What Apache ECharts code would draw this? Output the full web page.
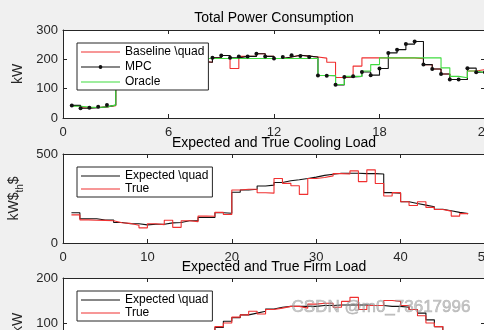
<!DOCTYPE html>
<html><head><meta charset="utf-8">
<script src="https://cdn.jsdelivr.net/npm/echarts@6/dist/echarts.min.js"></script>
<style>html,body{margin:0;padding:0;background:#f0f0f0;}#c{width:484px;height:330px;}</style>
</head><body><div id="c"></div>
<script>
// ---------- data ----------
const powerTime = [0.5,1,1.5,2,2.5,3,3.5,4,4.5,5,5.5,6,6.5,7,7.5,8,8.5,9,9.5,10,10.5,11,11.5,12,
  12.5,13,13.5,14,14.5,15,15.5,16,16.5,17,17.5,18,18.5,19,19.5,20,20.5,21,21.5,22,22.5,23,23.5,24];
const powerBaseline = [42,35,36,38,42, 196,201,204,199,203,206,201,197,203,193,
  190,205,213,169,210,210,219,210,203,208,214,211,208,204,190,138,140,177,
  205,205,205,205,205,205,202,182,167,150,131,131,160,165,165];
const powerMPC = [43,33,35,38,44, 195,200,205,198,202,207,200,196,203,192,
  190,205,213,205,210,210,219,210,203,208,214,211,208,145,144,113,140,142,157,146,169,
  222,233,252,261,182,167,150,131,131,170,156,156];
const powerOracle = [40,37,36,38,44, 203,203,203,203,203,203,203,203,203,203,
  203,203,203,203,203,203,203,203,203,203,203,203,203, 145,145,114,142,142,160,182,
  205,205,205,205,205,205,205, 171,142,137,160,155,155];

const loadTime = [1,2,3,4,5,6,7,8,9,10,11,12,13,14,15,16,17,18,19,20,21,22,23,24,
  25,26,27,28,29,30,31,32,33,34,35,36,37,38,39,40,41,42,43,44,45,46,47,48];
const coolingExpected = [170,136,136,129,129,115,108,108,102,105,
  105,113,115,125,125,143,143,170,167,285,
  298,302,320,325,340,350,355,362,370,380,
  386,392,392,392,390,390,388,283,280,232,
  222,213,204,190,181,172,165,165];
const coolingTrue = [158,130,128,127,125,114,110,100,85,108,
  103,128,88,125,120,151,150,172,160,298,
  302,302,282,280,362,335,322,273,362,368,
  377,390,388,405,345,411,334,264,283,232,
  211,232,200,188,179,151,165,165];
const firmExpected = [62,60,58,57,56,56,57,58,60,62,
  64,66,68,70,73,76,80,90,104,112,
  118,122,126,131,135,137,137,137,137,139,
  139,140,140,140,140,139,139,137,137,135,
  130,122,107,92,81,72,66,62];
const firmTrue = [60,61,57,58,55,57,56,59,61,60,
  65,64,69,71,72,78,79,92,100,113,
  118,126,120,130,133,137,137,133,142,144,
  144,135,148,157,130,139,139,150,148,139,
  130,116,100,92,81,68,63,62];

const powerXTicks = [0,6,12,18,24];
const loadXTicks = [0,10,20,30,40,50];
const powerYTicks = [0,100,200,300];
const coolingYTicks = [0,500];
const firmYTicks = [0,100,200];

// ---------- styling ----------
const FONT = 'Liberation Sans';
const AX = '#262626';
const RED = '#f03030', BLACK = '#111111', GREEN = '#3fdc3f';
const L = 63, W = 422;
const grids = [
  {left:L, top:30, width:W, height:88},
  {left:L, top:154, width:W, height:89},
  {left:L, top:278, width:W, height:90}
];
function rng(t){ return {min:t[0], max:t[t.length-1], interval:t[1]-t[0]}; }
function xAxes(gi, ticks){
  const r = rng(ticks);
  const base = {type:'value', gridIndex:gi, min:r.min, max:r.max, interval:r.interval,
    axisLine:{show:true,onZero:false,lineStyle:{color:AX,width:1}},
    axisTick:{show:true,inside:true,length:4,lineStyle:{color:AX,width:1}},
    splitLine:{show:false}};
  return [
    Object.assign({}, base, {position:'bottom',
      axisLabel:{show:true,color:AX,fontSize:13,fontFamily:FONT,margin:8,showMaxLabel:true,showMinLabel:true,hideOverlap:false}}),
    Object.assign({}, base, {position:'top', axisLabel:{show:false}})
  ];
}
function yAxes(gi, ticks, name, nameGap){
  const r = rng(ticks);
  const base = {type:'value', gridIndex:gi, min:r.min, max:r.max, interval:r.interval,
    axisLine:{show:true,onZero:false,lineStyle:{color:AX,width:1}},
    axisTick:{show:true,inside:true,length:4,lineStyle:{color:AX,width:1}},
    splitLine:{show:false}};
  return [
    Object.assign({}, base, {position:'left', name:name, nameLocation:'middle', nameRotate:90, nameGap:nameGap,
      nameTextStyle:{color:AX,fontSize:14,fontFamily:FONT,
        rich:{a:{fontSize:14,fontFamily:FONT,color:AX,verticalAlign:'top',lineHeight:18},
              s:{fontSize:10,fontFamily:FONT,color:AX,verticalAlign:'bottom',lineHeight:18}}},
      axisLabel:{show:true,color:AX,fontSize:13,fontFamily:FONT,margin:5}}),
    Object.assign({}, base, {position:'right', axisLabel:{show:false}})
  ];
}
function stairs(name, xs, ys, color, ai, dots){
  return {type:'line', name:name, step:'end', xAxisIndex:ai, yAxisIndex:ai,
    data: xs.map((x,i)=>[x, ys[i]]), color:color,
    lineStyle:{color:color, width:1.1}, itemStyle:{color:color},
    symbol: dots ? 'circle' : 'none', symbolSize:4, showSymbol:!!dots, showAllSymbol:true,
    animation:false, silent:true, clip:true};
}
const LINE = 'path://M0,0L39,0L39,1.2L0,1.2Z';
const LINE_DOT = 'path://M0,2.4L39,2.4L39,3.6L0,3.6Z M21.5,3L20.9,4.4L19.5,5L18.1,4.4L17.5,3L18.1,1.6L19.5,1L20.9,1.6Z';
function legend(top, items, gap){
  return {left:77, top:top, orient:'vertical', data:items,
    backgroundColor:'#ffffff', borderColor:AX, borderWidth:1, borderRadius:0,
    padding:[3,4,2,4], itemWidth:39, itemHeight:14, itemGap:gap,
    itemStyle:{borderWidth:0}, lineStyle:{width:0},
    textStyle:{color:'#000',fontSize:12,fontFamily:FONT}, selectedMode:false};
}
function title(text, top){
  return {text:text, left:274, top:top, textAlign:'center', padding:0,
    textStyle:{color:'#000',fontSize:14,fontWeight:'normal',fontFamily:FONT}};
}

const chart = echarts.init(document.getElementById('c'), null, {renderer:'canvas'});
chart.setOption({
  backgroundColor:'#f0f0f0',
  animation:false,
  title:[title('Total Power Consumption',11), title('Expected and True Cooling Load',136), title('Expected and True Firm Load',260)],
  grid: grids.map(g=>Object.assign({show:true, backgroundColor:'#ffffff', borderWidth:0, containLabel:false, outerBoundsMode:'none'}, g)),
  xAxis: [].concat(xAxes(0,powerXTicks), xAxes(1,loadXTicks), xAxes(2,loadXTicks)),
  yAxis: [].concat(yAxes(0,powerYTicks,'kW',32), yAxes(1,coolingYTicks,'{a|kW$}{s|th}{a|$}',30), yAxes(2,firmYTicks,'kW',34)),
  legend:[
    legend(43, [{name:'Baseline \\quad',icon:LINE},{name:'MPC',icon:LINE_DOT},{name:'Oracle',icon:LINE}], 3),
    legend(167, [{name:'Expected \\quad',icon:LINE},{name:'True',icon:LINE}], 1),
    legend(291, [{name:'Expected \\quad',icon:LINE},{name:'True',icon:LINE}], 1)
  ],
  series:[
    stairs('Baseline \\quad', powerTime, powerBaseline, RED, 0, false),
    stairs('MPC', powerTime, powerMPC, BLACK, 0, true),
    stairs('Oracle', powerTime, powerOracle, GREEN, 0, false),
    stairs('Expected \\quad', loadTime, coolingExpected, BLACK, 2, false),
    stairs('True', loadTime, coolingTrue, RED, 2, false),
    stairs('Expected \\quad', loadTime, firmExpected, BLACK, 4, false),
    stairs('True', loadTime, firmTrue, RED, 4, false)
  ],
  graphic:[{type:'text', x:381, y:307, z:100, silent:true,
    style:{text:'CSDN @m0_73617996', font:'17px "Liberation Sans"', textAlign:'center', textVerticalAlign:'middle',
      fill:'rgba(160,160,160,0.55)', stroke:'rgba(110,110,110,0.45)', lineWidth:0.6}}]
});
</script>
</body></html>
